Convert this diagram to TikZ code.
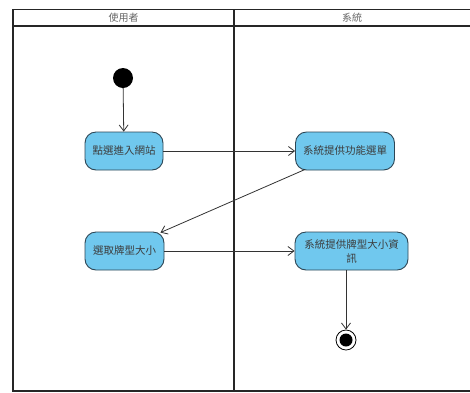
\documentclass[tikz,border=0pt]{standalone}
\usepackage{fontspec}
\newfontfamily\cjk{Noto Sans CJK TC}
\usetikzlibrary{arrows.meta}
\definecolor{actfill}{RGB}{112,200,238}
\definecolor{actdraw}{RGB}{45,70,85}
\definecolor{txt}{RGB}{60,60,60}
\tikzset{
  lane/.style={line width=1.8pt, draw=black!85},
  act/.style={draw=actdraw, line width=0.9pt, fill=actfill, rounded corners=11pt,
    font=\cjk\fontsize{10.5}{14}\selectfont, text=txt, align=center, inner sep=0pt},
  flow/.style={draw=black!80, line width=0.8pt, -{Straight Barb[length=6pt,width=9pt]}},
  hdr/.style={font=\cjk\fontsize{10}{12}\selectfont, text=black!60}
}
\begin{document}
\begin{tikzpicture}[x=1pt,y=-1pt]
\useasboundingbox (0,0) rectangle (470,392);
\fill[white] (0,0) rectangle (470,392);
% swimlane frame
\draw[lane] (470,9.5) -- (13,9.5) -- (13,391) -- (470,391);
\draw[lane] (13,26) -- (470,26);
\draw[lane] (234,9.5) -- (234,391);
\node[hdr] (h1) at (123.5,17.5) {使用者};
\node[hdr] (h2) at (352,17.5) {系統};
% nodes
\node[circle, fill=black, minimum size=20pt, inner sep=0pt] (start) at (123,78) {};
\node[act, minimum width=78pt, minimum height=38pt] (a1) at (124,151) {點選進入網站};
\node[act, minimum width=99pt, minimum height=38pt] (a2) at (345,151) {系統提供功能選單};
\node[act, minimum width=79pt, minimum height=38pt] (a3) at (124.5,251) {選取牌型大小};
\node[act, minimum width=113pt, minimum height=38pt] (a4) at (351.5,251) {系統提供牌型大小資\\訊};
\node[circle, draw=black, line width=0.8pt, minimum size=20pt, inner sep=0pt] (end) at (346,340) {};
\node[circle, fill=black, minimum size=13pt, inner sep=0pt] (endin) at (end.center) {};
% flows
\draw[flow] (start) -- (a1);
\draw[flow] (a1) -- (a2);
\draw[flow] (a2.south west) ++(10,-1) coordinate (c2) (c2) -- ([shift={(-4,1)}]a3.north east);
\draw[flow] (a3) -- (a4);
\draw[flow] (a4.south -| end) -- (end);
\end{tikzpicture}
\end{document}
